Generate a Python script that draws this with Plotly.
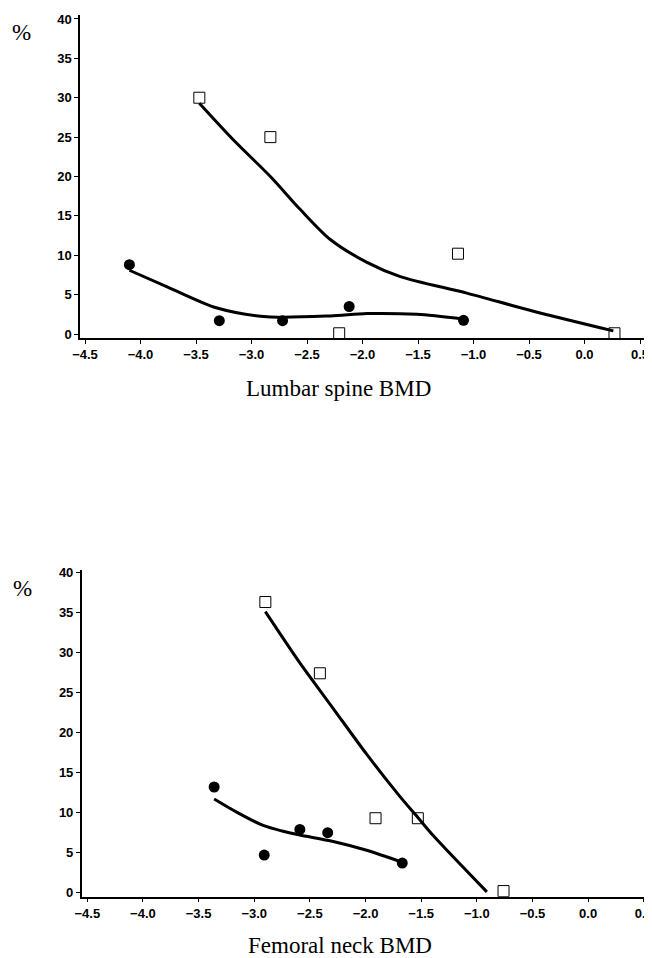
import plotly.graph_objects as go

# ---- Top panel: Lumbar spine BMD ----
ls_sq_x = [-3.47, -2.83, -2.21, -1.14, 0.27]
ls_sq_y = [30.0, 25.0, 0.1, 10.2, 0.1]
ls_ci_x = [-4.10, -3.29, -2.72, -2.12, -1.09]
ls_ci_y = [8.8, 1.7, 1.7, 3.5, 1.75]
ls_sq_fit_x = [-3.47, -3.16, -2.83, -2.56, -2.29, -1.96, -1.66, -1.06, -0.46, 0.26]
ls_sq_fit_y = [29.3, 24.6, 20.0, 15.8, 12.0, 9.1, 7.3, 5.2, 2.9, 0.4]
ls_ci_fit_x = [-4.10, -3.76, -3.31, -2.86, -2.29, -1.96, -1.51, -1.09]
ls_ci_fit_y = [8.1, 6.0, 3.3, 2.2, 2.3, 2.6, 2.5, 1.9]

# ---- Bottom panel: Femoral neck BMD ----
fn_sq_x = [-2.90, -2.41, -1.91, -1.53, -0.76]
fn_sq_y = [36.3, 27.4, 9.3, 9.3, 0.2]
fn_ci_x = [-3.36, -2.91, -2.59, -2.34, -1.67]
fn_ci_y = [13.2, 4.7, 7.9, 7.5, 3.7]
fn_sq_fit_x = [-2.90, -2.59, -2.29, -1.99, -1.69, -1.53, -1.39, -0.91]
fn_sq_fit_y = [35.1, 28.7, 23.0, 17.3, 12.0, 9.4, 7.1, 0.1]
fn_ci_fit_x = [-3.36, -3.15, -2.92, -2.75, -2.59, -2.29, -1.99, -1.67]
fn_ci_fit_y = [11.7, 10.0, 8.4, 7.7, 7.2, 6.4, 5.3, 3.8]

x_ticks = [-4.5, -4.0, -3.5, -3.0, -2.5, -2.0, -1.5, -1.0, -0.5, 0.0, 0.5]
y_ticks = [0, 5, 10, 15, 20, 25, 30, 35, 40]
titles = ["Lumbar spine BMD", "Femoral neck BMD"]

# the page body adds an 8px margin; figure sized so it ends at the window edge
OFF = 8
W, H = 652 - OFF, 958 - OFF


def px(v):
    return (v - OFF) / W


def py(v):
    return 1 - (v - OFF) / H


fig = go.Figure()

line_style = dict(color="black", width=3, shape="spline", smoothing=0.8)
sq_marker = dict(symbol="square-open", size=11, color="black", line=dict(width=1))
ci_marker = dict(symbol="circle", size=11, color="black")

panels = [
    ("x", "y", ls_sq_x, ls_sq_y, ls_ci_x, ls_ci_y, ls_sq_fit_x, ls_sq_fit_y, ls_ci_fit_x, ls_ci_fit_y),
    ("x2", "y2", fn_sq_x, fn_sq_y, fn_ci_x, fn_ci_y, fn_sq_fit_x, fn_sq_fit_y, fn_ci_fit_x, fn_ci_fit_y),
]
for xa, ya, sx, sy, cx, cy, sfx, sfy, cfx, cfy in panels:
    fig.add_trace(go.Scatter(x=sfx, y=sfy, mode="lines", line=line_style, xaxis=xa, yaxis=ya, showlegend=False))
    fig.add_trace(go.Scatter(x=cfx, y=cfy, mode="lines", line=line_style, xaxis=xa, yaxis=ya, showlegend=False))
    fig.add_trace(go.Scatter(x=sx, y=sy, mode="markers", marker=sq_marker, xaxis=xa, yaxis=ya, showlegend=False))
    fig.add_trace(go.Scatter(x=cx, y=cy, mode="markers", marker=ci_marker, xaxis=xa, yaxis=ya, showlegend=False))

tickfont = dict(family="Liberation Sans, Arial", size=13, color="black", weight="bold")
axis_common = dict(showgrid=False, zeroline=False, showline=True, linecolor="black", linewidth=1.5,
                   ticks="outside", ticklen=4, tickwidth=1, tickcolor="black", tickfont=tickfont,
                   automargin=False, ticklabeloverflow="allow")

fig.update_layout(
    template="none",
    width=W, height=H,
    margin=dict(l=0, r=0, t=0, b=0, pad=0),
    paper_bgcolor="white", plot_bgcolor="white",
    xaxis=dict(domain=[px(80), px(645)], range=[-4.545, 0.545], tickvals=x_ticks, tickformat=".1f",
               anchor="y", **axis_common),
    yaxis=dict(domain=[py(338), py(15)], range=[-0.5, 40.5], tickvals=y_ticks,
               anchor="x", **axis_common),
    xaxis2=dict(domain=[px(81.7), px(646)], range=[-4.55, 0.52], tickvals=x_ticks, tickformat=".1f",
                anchor="y2", **axis_common),
    yaxis2=dict(domain=[py(896.7), py(570)], range=[-0.5, 40.3], tickvals=y_ticks,
                anchor="x2", **axis_common),
)

serif = "Liberation Serif, Times New Roman, serif"
annots = [
    dict(text="%", x=10, y=33),
    dict(text="%", x=11, y=588),
    dict(text=titles[0], x=338, y=389, size=23, center=True),
    dict(text=titles[1], x=340, y=945, size=23, center=True),
]
for a in annots:
    fig.add_annotation(
        text=a["text"], xref="paper", yref="paper",
        x=px(a["x"]), y=py(a["y"]),
        xanchor="center" if a.get("center") else "left", yanchor="middle",
        showarrow=False, font=dict(family=serif, size=a.get("size", 23), color="black"),
    )

fig.write_html("out.html")
